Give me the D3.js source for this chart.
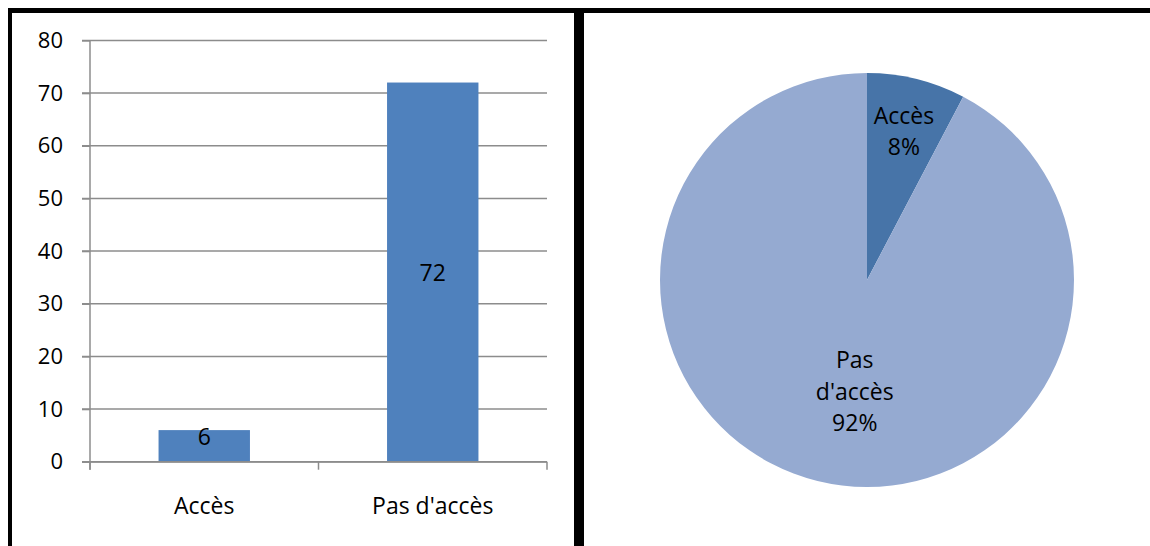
<!DOCTYPE html>
<html>
<head>
<meta charset="utf-8">
<script src="https://cdn.jsdelivr.net/npm/d3@7/dist/d3.min.js"></script>
<style>
  html, body { margin: 0; padding: 0; background: #fff; }
  svg { display: block; font-family: "Open Sans", sans-serif; }
</style>
</head>
<body>
<svg id="chart" width="1150" height="546"></svg>
<script>
// Access counts per category
const categories = ["Accès", "Pas d'accès"];
const values = [6, 72];
const yTicks = [0, 10, 20, 30, 40, 50, 60, 70, 80];
const pieLabels = ["Accès", "Pas d'accès"];

const svg = d3.select("#chart");

// ---------- Frame ----------
svg.append("rect").attr("x", 8).attr("y", 8).attr("width", 1142).attr("height", 5).attr("fill", "#000");
svg.append("rect").attr("x", 8).attr("y", 8).attr("width", 4).attr("height", 538).attr("fill", "#000");
svg.append("rect").attr("x", 574).attr("y", 8).attr("width", 10).attr("height", 538).attr("fill", "#000");

// ---------- Bar chart ----------
const plot = { left: 90, right: 547, top: 40.4, bottom: 461.7 };

const y = d3.scaleLinear().domain([0, 80]).range([plot.bottom, plot.top]);
const x = d3.scaleBand().domain(categories).range([plot.left, plot.right])
  .paddingInner(0.6).paddingOuter(0.3);

const gridColor = "#8c8c8c";

// horizontal gridlines with left tick stubs
svg.append("g").selectAll("line").data(yTicks).join("line")
  .attr("x1", plot.left - 8).attr("x2", plot.right)
  .attr("y1", d => y(d)).attr("y2", d => y(d))
  .attr("stroke", gridColor).attr("stroke-width", 1.5);

// y axis
const yAxis = d3.axisLeft(y).tickValues(yTicks).tickSize(8).tickPadding(19);
const gy = svg.append("g").attr("transform", `translate(${plot.left},0)`).call(yAxis);
gy.select(".domain").remove();
gy.selectAll(".tick line").attr("stroke", gridColor).attr("stroke-width", 1.5);
gy.selectAll(".tick text").attr("fill", "#000").style("font-size", "22px").style("font-family", "Open Sans");
svg.append("line").attr("x1", plot.left).attr("x2", plot.left)
  .attr("y1", plot.top).attr("y2", plot.bottom + 8)
  .attr("stroke", gridColor).attr("stroke-width", 1.5);

// x axis: category boundaries and labels
const step = x.step();
const boundaries = d3.range(categories.length + 1).map(i => plot.left + i * (plot.right - plot.left) / categories.length);
svg.append("line").attr("x1", plot.left).attr("x2", plot.right)
  .attr("y1", plot.bottom).attr("y2", plot.bottom)
  .attr("stroke", gridColor).attr("stroke-width", 1.5);
svg.append("g").selectAll("line").data(boundaries).join("line")
  .attr("x1", d => d).attr("x2", d => d)
  .attr("y1", plot.bottom).attr("y2", plot.bottom + 8)
  .attr("stroke", gridColor).attr("stroke-width", 1.5);

// bars
svg.append("g").selectAll("rect").data(values).join("rect")
  .attr("x", (d, i) => x(categories[i]))
  .attr("y", d => y(d))
  .attr("width", x.bandwidth())
  .attr("height", d => plot.bottom - y(d))
  .attr("fill", "#4f81bd");

// redraw the baseline over the bars
svg.append("line").attr("x1", plot.left).attr("x2", plot.right)
  .attr("y1", plot.bottom).attr("y2", plot.bottom)
  .attr("stroke", gridColor).attr("stroke-width", 1.5);

// value labels
svg.append("g").selectAll("text").data(values).join("text")
  .attr("x", (d, i) => x(categories[i]) + x.bandwidth() / 2)
  .attr("y", d => {
    const top = y(d), h = plot.bottom - top;
    return h < 40 ? top + 6 : top + h / 2;
  })
  .attr("text-anchor", "middle").attr("dominant-baseline", "central")
  .style("font-size", "23px").attr("fill", "#000")
  .text(d => d);

// category labels
svg.append("g").selectAll("text").data(categories).join("text")
  .attr("x", d => x(d) + x.bandwidth() / 2)
  .attr("y", 505)
  .attr("text-anchor", "middle").attr("dominant-baseline", "central")
  .style("font-size", "23px").attr("fill", "#000")
  .text(d => d);

// ---------- Pie chart ----------
const cx = 867, cy = 280, r = 207;
const pie = d3.pie().sort(null).value(d => d);
const arcs = pie(values);
const total = d3.sum(values);
const arc = d3.arc().innerRadius(0).outerRadius(r);
const sliceColors = ["#4774a8", "#95aad1"];

const gp = svg.append("g").attr("transform", `translate(${cx},${cy})`);
gp.selectAll("path").data(arcs).join("path")
  .attr("d", arc)
  .attr("fill", (d, i) => sliceColors[i]);

// label placement: centroid on a ring inside each slice
const labelRadius = [0.745 * r, 0.55 * r];
const labelShift = [0, 15];
arcs.forEach((a, i) => {
  const la = d3.arc().innerRadius(labelRadius[i]).outerRadius(labelRadius[i]);
  const [lx, ly] = la.centroid(a);
  const pct = Math.round(a.data / total * 100) + "%";
  const words = i === 0 ? [pieLabels[i], pct] : ["Pas", "d'accès", pct];
  const lineH = 31.5;
  const t = gp.append("text")
    .attr("text-anchor", "middle")
    .style("font-size", "23px").attr("fill", "#000");
  words.forEach((w, k) => {
    t.append("tspan")
      .attr("x", lx + labelShift[i])
      .attr("y", ly + (k - (words.length - 1) / 2) * lineH)
      .attr("dominant-baseline", "central")
      .text(w);
  });
});
</script>
</body>
</html>
